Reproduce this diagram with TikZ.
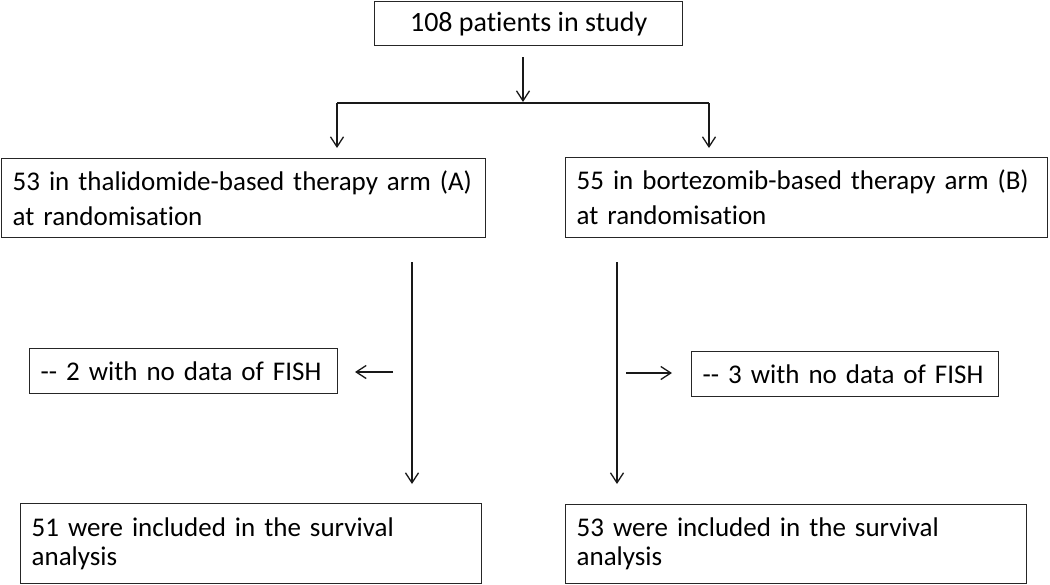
\documentclass[tikz,border=0pt]{standalone}
\usepackage{fontspec}
\setmainfont{Carlito}[Ligatures=CommonOff]
\usetikzlibrary{arrows.meta}
\begin{document}
\begin{tikzpicture}[x=1pt,y=-1pt,
  boxst/.style={draw=black!85,line width=1.3pt,anchor=north west,inner xsep=11pt,inner ysep=0pt,
    align=left,font=\fontsize{27}{35}\selectfont,text=black},
  conn/.style={line width=1.3pt,draw=black!90,-{Straight Barb[length=10pt,width=13pt,line width=1.3pt]}},
  plain/.style={line width=1.3pt,draw=black!90}]
\useasboundingbox (0,0) rectangle (1050,584);
\node[boxst,minimum width=308pt,minimum height=44pt,align=center,inner xsep=0pt,font=\fontsize{28}{34}\selectfont] (top) at (374,1) {108 patients in study};
\node[boxst,minimum width=484pt,minimum height=79pt,text width=462pt] (armA) at (1,158) {53 in thalidomide-based therapy arm (A)\\at randomisation};
\node[boxst,minimum width=482pt,minimum height=80pt,text width=460pt] (armB) at (565,157) {55 in bortezomib-based therapy arm (B)\\at randomisation};
\node[boxst,minimum width=308pt,minimum height=45pt,text width=286pt] (fishA) at (29,348) {-{}- 2 with no data of FISH};
\node[boxst,minimum width=307pt,minimum height=45pt,text width=285pt] (fishB) at (691,351) {-{}- 3 with no data of FISH};
\node[boxst,minimum width=461pt,minimum height=80pt,text width=439pt,font=\fontsize{27}{29}\selectfont] (survA) at (20,503) {51 were included in the survival\\analysis};
\node[boxst,minimum width=461pt,minimum height=79pt,text width=439pt,font=\fontsize{27}{29}\selectfont] (survB) at (565,504) {53 were included in the survival\\analysis};
% coordinates
\coordinate (t0) at (523,57);
\coordinate (t1) at (523,102);
\coordinate (sl) at (337,103);
\coordinate (sr) at (709,103);
\coordinate (al) at (337,148);
\coordinate (ar) at (709,148);
\coordinate (vl0) at (412,262);
\coordinate (vl1) at (412,484);
\coordinate (vr0) at (617,262);
\coordinate (vr1) at (617,484);
\coordinate (hl0) at (393,372);
\coordinate (hl1) at (355,372);
\coordinate (hr0) at (626,373);
\coordinate (hr1) at (672,373);
\draw[conn] (t0) -- (t1);
\draw[plain] (sl) -- (sr);
\draw[conn] (sl) -- (al);
\draw[conn] (sr) -- (ar);
\draw[conn] (vl0) -- (vl1);
\draw[conn] (vr0) -- (vr1);
\draw[conn] (hl0) -- (hl1);
\draw[conn] (hr0) -- (hr1);
\end{tikzpicture}
\end{document}
